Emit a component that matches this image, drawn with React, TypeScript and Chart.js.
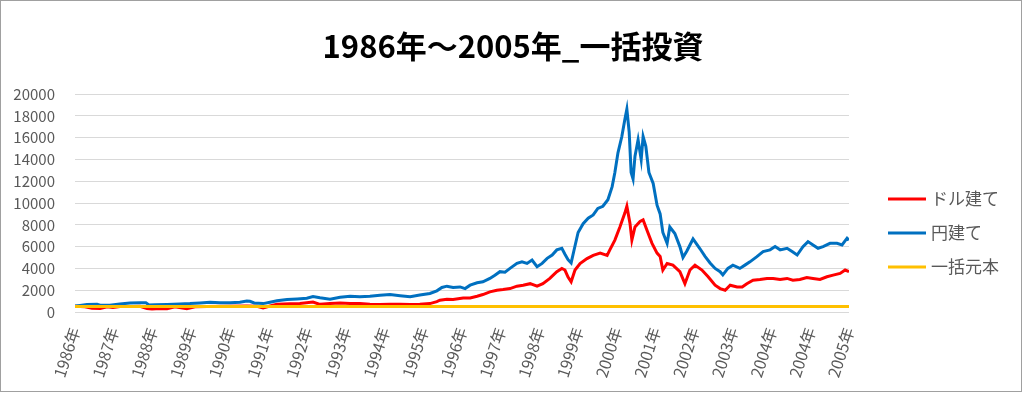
import React, { useEffect, useRef } from "react";
import { Chart, registerables } from "chart.js";

Chart.register(...registerables);

const FONT = '"Noto Sans CJK JP", "Noto Sans", sans-serif';
const TITLE = "1986年～2005年_一括投資";

const yearLabels = [
  "1986年", "1987年", "1988年", "1989年", "1990年", "1991年", "1992年",
  "1993年", "1994年", "1995年", "1996年", "1997年", "1998年", "1999年",
  "2000年", "2001年", "2002年", "2003年", "2004年", "2004年", "2005年",
];

const seriesNames = ["ドル建て", "円建て", "一括元本"];
const seriesColors = ["#ff0000", "#0070c0", "#ffc000"];

// position along the label axis (0 = 1986年 ... 20 = 2005年)
const usdT = [
  0, 0.26, 0.44, 0.65, 0.83, 0.98, 1.16, 1.5, 1.68, 1.86,
  1.99, 2.2, 2.38, 2.58, 2.89, 3.1, 3.41, 3.93, 4.44, 4.7,
  4.86, 5.04, 5.22, 5.56, 5.81, 6.15, 6.33, 6.59, 6.85, 7.11,
  7.36, 7.62, 7.88, 8.14, 8.4, 8.66, 8.91, 9.17, 9.35, 9.43,
  9.61, 9.77, 10.03, 10.21, 10.39, 10.54, 10.72, 10.9, 11.06, 11.24,
  11.42, 11.58, 11.76, 11.94, 12.09, 12.27, 12.45, 12.58, 12.66, 12.74,
  12.82, 12.92, 13.05, 13.23, 13.39, 13.57, 13.75, 13.82, 13.95, 14.08,
  14.21, 14.26, 14.34, 14.39, 14.47, 14.6, 14.68, 14.78, 14.91, 15.04,
  15.12, 15.19, 15.3, 15.45, 15.63, 15.76, 15.89, 16.02, 16.2, 16.36,
  16.54, 16.67, 16.8, 16.93, 17.11, 17.24, 17.36, 17.52, 17.7, 17.88,
  18.04, 18.22, 18.4, 18.55, 18.73, 18.91, 19.07, 19.25, 19.43, 19.59,
  19.77, 19.9, 20,
];
const usdValues = [
  520, 480, 350, 330, 480, 420, 500, 510, 520, 330,
  280, 330, 310, 480, 310, 480, 510, 520, 560, 520,
  380, 550, 710, 750, 770, 920, 700, 770, 830, 770,
  770, 710, 680, 710, 710, 680, 710, 770, 950, 1080,
  1170, 1140, 1290, 1290, 1450, 1600, 1850, 2000, 2060, 2150,
  2370, 2460, 2600, 2370, 2600, 3080, 3700, 4000, 3850, 3200,
  2770, 3850, 4450, 4900, 5200, 5400, 5200, 5700, 6600, 7800,
  9100, 9700, 8150, 6600, 7800, 8300, 8450, 7500, 6300, 5400,
  5100, 3850, 4450, 4300, 3700, 2600, 3850, 4300, 3850, 3230,
  2460, 2150, 2000, 2460, 2300, 2300, 2600, 2920, 2980, 3080,
  3080, 2980, 3080, 2920, 2980, 3170, 3080, 2980, 3230, 3380,
  3540, 3850, 3700,
];

const jpyT = [
  0, 0.13, 0.31, 0.57, 0.65, 0.9, 1.16, 1.42, 1.68, 1.83,
  1.91, 2.07, 2.38, 2.71, 2.97, 3.23, 3.49, 3.75, 4.01, 4.26,
  4.44, 4.52, 4.63, 4.86, 5.04, 5.22, 5.48, 5.74, 5.99, 6.15,
  6.33, 6.59, 6.85, 7.11, 7.36, 7.62, 7.88, 8.14, 8.4, 8.66,
  8.91, 9.17, 9.35, 9.48, 9.61, 9.77, 9.95, 10.08, 10.21, 10.39,
  10.54, 10.72, 10.85, 10.98, 11.11, 11.24, 11.42, 11.55, 11.68, 11.81,
  11.94, 12.07, 12.2, 12.33, 12.45, 12.58, 12.66, 12.74, 12.82, 12.89,
  13.0, 13.13, 13.26, 13.39, 13.51, 13.64, 13.77, 13.88, 13.95, 14.03,
  14.13, 14.21, 14.26, 14.32, 14.37, 14.42, 14.47, 14.55, 14.63, 14.68,
  14.75, 14.83, 14.94, 15.04, 15.12, 15.19, 15.3, 15.37, 15.5, 15.63,
  15.71, 15.81, 15.97, 16.15, 16.28, 16.41, 16.54, 16.67, 16.74, 16.87,
  17.0, 17.18, 17.31, 17.44, 17.62, 17.78, 17.96, 18.09, 18.22, 18.4,
  18.53, 18.66, 18.81, 18.94, 19.07, 19.2, 19.33, 19.51, 19.69, 19.82,
  19.95, 20,
];
const jpyValues = [
  550, 600, 680, 710, 620, 615, 740, 830, 860, 860,
  640, 660, 690, 740, 770, 830, 890, 860, 860, 890,
  1000, 985, 830, 770, 900, 1040, 1140, 1200, 1260, 1420,
  1300, 1170, 1350, 1450, 1400, 1450, 1540, 1600, 1500, 1400,
  1560, 1700, 1940, 2250, 2370, 2250, 2300, 2150, 2460, 2680,
  2770, 3080, 3380, 3700, 3650, 4000, 4460, 4600, 4460, 4770,
  4150, 4460, 4920, 5230, 5700, 5850, 5300, 4800, 4500, 5600,
  7300, 8100, 8600, 8900, 9500, 9700, 10300, 11500, 12800, 14600,
  16100, 17700, 18600, 16500, 12800, 12200, 14300, 15800, 14000, 16100,
  15200, 12800, 11800, 9800, 9000, 7300, 6300, 7800, 7200, 6000,
  5000, 5600, 6700, 5800, 5100, 4500, 4000, 3700, 3400, 4000,
  4300, 4000, 4300, 4600, 5080, 5540, 5700, 6000, 5700, 5850,
  5540, 5230, 6000, 6460, 6150, 5850, 6000, 6300, 6300, 6150,
  6770, 6600,
];

const principalT = [0, 20];
const principalValues = [500, 500];

const yMin = 0;
const yMax = 20000;
const yStep = 2000;

const toPoints = (t: number[], v: number[]) => t.map((x, i) => ({ x, y: v[i] }));

const overlayPlugin = {
  id: "overlay",
  afterDraw(chart: any) {
    const ctx = chart.ctx;
    ctx.save();
    ctx.fillStyle = "#000000";
    ctx.font = `bold 31px ${FONT}`;
    ctx.textAlign = "center";
    ctx.textBaseline = "middle";
    ctx.fillText(TITLE, 512, 45);

    chart.data.datasets.forEach((ds: any, i: number) => {
      const y = 198 + i * 34;
      ctx.strokeStyle = ds.borderColor;
      ctx.lineWidth = 3;
      ctx.beginPath();
      ctx.moveTo(887, y);
      ctx.lineTo(925, y);
      ctx.stroke();
      ctx.fillStyle = "#595959";
      ctx.font = `17px ${FONT}`;
      ctx.textAlign = "left";
      ctx.textBaseline = "middle";
      ctx.fillText(ds.label, 930, y);
    });
    ctx.restore();
  },
};

export default function App() {
  const ref = useRef<HTMLCanvasElement | null>(null);

  useEffect(() => {
    if (!ref.current) return;
    const chart = new Chart(ref.current, {
      type: "line",
      data: {
        datasets: [
          {
            label: seriesNames[0],
            data: toPoints(usdT, usdValues),
            borderColor: seriesColors[0],
            backgroundColor: seriesColors[0],
            borderWidth: 3,
            pointRadius: 0,
            order: 3,
          },
          {
            label: seriesNames[1],
            data: toPoints(jpyT, jpyValues),
            borderColor: seriesColors[1],
            backgroundColor: seriesColors[1],
            borderWidth: 3,
            pointRadius: 0,
            order: 2,
          },
          {
            label: seriesNames[2],
            data: toPoints(principalT, principalValues),
            borderColor: seriesColors[2],
            backgroundColor: seriesColors[2],
            borderWidth: 3,
            pointRadius: 0,
            order: 1,
          },
        ],
      },
      options: {
        responsive: false,
        animation: false,
        events: [],
        layout: { padding: { left: 0, right: 172, top: 93, bottom: 0 } },
        plugins: {
          legend: { display: false },
          title: { display: false },
          tooltip: { enabled: false },
        },
        scales: {
          x: {
            type: "linear",
            min: 0,
            max: yearLabels.length - 1,
            grid: { display: false, drawTicks: false },
            border: { display: false },
            afterBuildTicks: (s: any) => {
              s.ticks = yearLabels.map((_, i) => ({ value: i }));
            },
            afterFit: (s: any) => {
              s.height = 79;
            },
            ticks: {
              autoSkip: false,
              minRotation: 72,
              maxRotation: 72,
              padding: 13,
              color: "#595959",
              font: { family: FONT, size: 16 },
              callback: (v: any) => yearLabels[v as number] ?? "",
            },
          },
          y: {
            min: yMin,
            max: yMax,
            grid: { color: "#d9d9d9", lineWidth: 1, drawTicks: false },
            border: { display: false },
            afterFit: (s: any) => {
              s.width = 74;
            },
            ticks: {
              stepSize: yStep,
              padding: 20,
              color: "#595959",
              font: { family: FONT, size: 15 },
              callback: (v: any) => String(v),
            },
          },
        },
      },
      plugins: [overlayPlugin],
    });
    return () => chart.destroy();
  }, []);

  return (
    <div
      style={{
        position: "absolute",
        left: 0,
        top: 0,
        width: 1022,
        height: 392,
        border: "1px solid #a0a0a0",
        boxSizing: "border-box",
        background: "#ffffff",
      }}
    >
      <canvas ref={ref} width={1020} height={390} style={{ display: "block" }} />
    </div>
  );
}
